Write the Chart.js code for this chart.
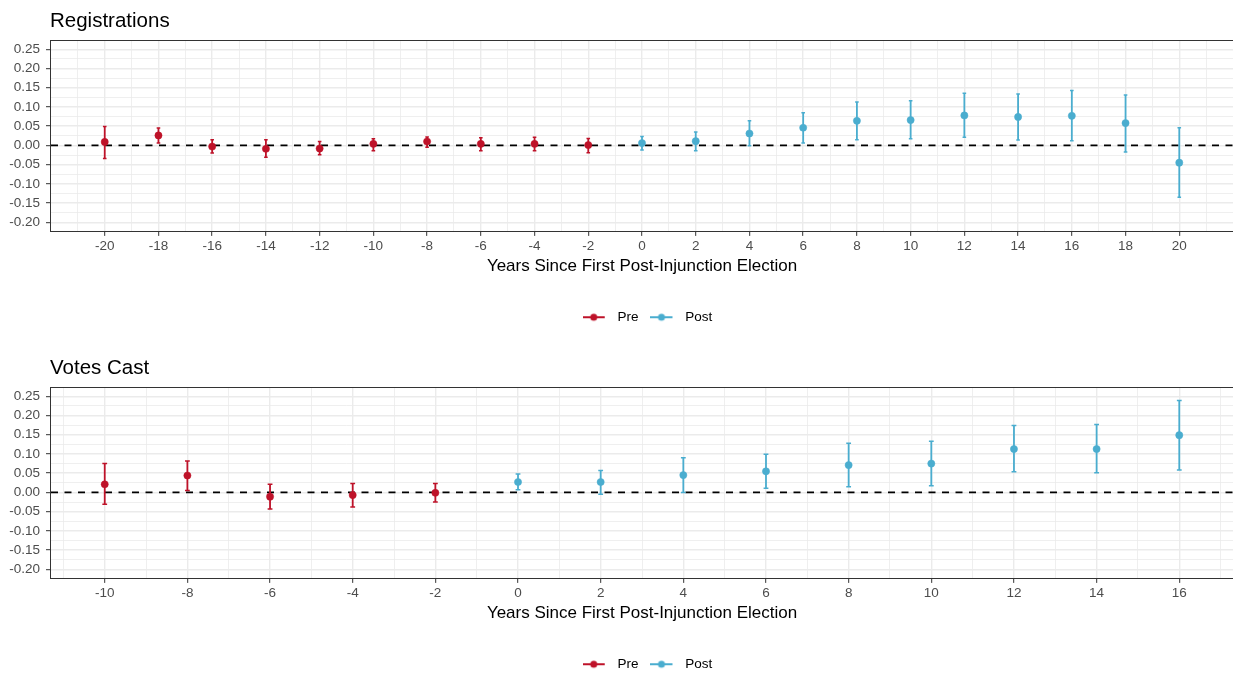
<!DOCTYPE html>
<html>
<head>
<meta charset="utf-8">
<script src="https://cdn.jsdelivr.net/npm/chart.js@4.4.1/dist/chart.umd.min.js"></script>
<style>
  html, body { margin: 0; padding: 0; background: #ffffff; overflow: hidden; width: 1233px; height: 675px; }
  .panel { position: absolute; left: 0; width: 1233px; height: 338px; }
</style>
</head>
<body>
<div class="panel" style="top:0px"><canvas id="c1" width="1233" height="338"></canvas></div>
<div class="panel" style="top:347px"><canvas id="c2" width="1233" height="338"></canvas></div>
<script>
// ---------------- DATA ----------------
const seriesNames = ['Pre', 'Post'];
const xAxisTitle = 'Years Since First Post-Injunction Election';

// Panel 1: Registrations
const regTitle = 'Registrations';
const regYears = [-20, -18, -16, -14, -12, -10, -8, -6, -4, -2, 0, 2, 4, 6, 8, 10, 12, 14, 16, 18, 20];
const regEst   = [0.009, 0.026, -0.003, -0.009, -0.008, 0.004, 0.010, 0.004, 0.004, 0.001, 0.006, 0.011, 0.031, 0.046, 0.064, 0.066, 0.078, 0.074, 0.077, 0.058, -0.045];
const regLo    = [-0.034, 0.006, -0.020, -0.031, -0.024, -0.014, -0.005, -0.014, -0.014, -0.019, -0.012, -0.014, -0.001, 0.006, 0.015, 0.017, 0.021, 0.014, 0.012, -0.017, -0.135];
const regHi    = [0.049, 0.045, 0.015, 0.015, 0.010, 0.017, 0.022, 0.020, 0.021, 0.018, 0.023, 0.035, 0.064, 0.085, 0.113, 0.116, 0.136, 0.134, 0.143, 0.131, 0.046];
const regXTicks = [-20, -18, -16, -14, -12, -10, -8, -6, -4, -2, 0, 2, 4, 6, 8, 10, 12, 14, 16, 18, 20];
const regXLimits = [-22, 22];

// Panel 2: Votes Cast
const voteTitle = 'Votes Cast';
const voteYears = [-10, -8, -6, -4, -2, 0, 2, 4, 6, 8, 10, 12, 14, 16];
const voteEst   = [0.021, 0.044, -0.011, -0.007, -0.001, 0.027, 0.027, 0.045, 0.055, 0.071, 0.075, 0.113, 0.113, 0.149];
const voteLo    = [-0.031, 0.005, -0.043, -0.038, -0.025, 0.007, -0.005, 0.000, 0.011, 0.015, 0.017, 0.054, 0.051, 0.058];
const voteHi    = [0.075, 0.082, 0.021, 0.023, 0.023, 0.048, 0.057, 0.090, 0.099, 0.128, 0.133, 0.174, 0.177, 0.239];
const voteXTicks = [-10, -8, -6, -4, -2, 0, 2, 4, 6, 8, 10, 12, 14, 16];
const voteXLimits = [-11.3, 17.3];

// Shared y axis
const yTickLabels = [-0.20, -0.15, -0.10, -0.05, 0.00, 0.05, 0.10, 0.15, 0.20, 0.25];
const yLimits = [-0.2225, 0.2725];

// ---------------- STYLE ----------------
const FONT = '"Liberation Sans", Arial, Helvetica, sans-serif';
const RED = '#BE1229';
const BLUE = '#4AADCF';
const GRID = '#EBEBEB';
const AXIS_TXT = '#4D4D4D';
Chart.defaults.font.family = FONT;

function legendIcon(color) {
  const c = document.createElement('canvas');
  c.width = 28; c.height = 10;
  const g = c.getContext('2d');
  g.strokeStyle = color; g.lineWidth = 2;
  g.beginPath(); g.moveTo(0, 5); g.lineTo(22, 5); g.stroke();
  g.fillStyle = color;
  g.beginPath(); g.arc(11, 5, 3.5, 0, Math.PI * 2); g.fill();
  return c;
}

const isIn = (arr, v) => arr.some(m => Math.abs(m - v) < 1e-9);

const framePlugin = {
  id: 'frame',
  afterDraw(chart) {
    const {ctx, chartArea: a} = chart;
    const l = Math.round(a.left), t = Math.round(a.top), r = Math.round(a.right), b = Math.round(a.bottom);
    ctx.save();
    ctx.strokeStyle = '#333333'; ctx.lineWidth = 1;
    ctx.strokeRect(l - 0.5, t - 0.5, r - l + 1, b - t + 1);
    ctx.restore();
  }
};

const panelTitlePlugin = {
  id: 'panelTitle',
  afterDraw(chart, args, opts) {
    const {ctx, chartArea: a} = chart;
    ctx.save();
    ctx.font = '20.5px ' + FONT;
    ctx.fillStyle = '#000000';
    ctx.textAlign = 'left';
    ctx.textBaseline = 'alphabetic';
    ctx.fillText(opts.text, a.left - 1, a.top - 14);
    ctx.restore();
  }
};

const legendShiftPlugin = {
  id: 'legendShift',
  afterLayout(chart, args, opts) {
    if (chart.legend) {
      chart.legend.left += opts.shift;
      chart.legend.right += opts.shift;
    }
  }
};

function buildPanel(canvasId, title, years, est, lo, hi, xTicks, xLimits, capHalf) {
  const preIdx = years.map((y, i) => i).filter(i => years[i] < 0);
  const postIdx = years.map((y, i) => i).filter(i => years[i] >= 0);
  const pts = idx => idx.map(i => ({x: years[i], y: est[i]}));
  const whisk = idx => {
    const out = [];
    idx.forEach(i => { out.push({x: years[i], y: lo[i]}); out.push({x: years[i], y: hi[i]}); out.push({x: years[i], y: null}); });
    return out;
  };
  const caps = idx => {
    const out = [];
    idx.forEach(i => { out.push({x: years[i], y: lo[i]}); out.push({x: years[i], y: hi[i]}); });
    return out;
  };
  const xMinor = xTicks.map(v => v - 1).concat([xTicks[xTicks.length - 1] + 1]);
  const xAll = xMinor.concat(xTicks).sort((a, b) => a - b);
  const yMinor = yTickLabels.slice(0, -1).map(v => v + 0.025);
  const yAll = yTickLabels.concat(yMinor).sort((a, b) => a - b);

  const pointDs = (label, idx, color) => ({
    label, type: 'scatter', data: pts(idx), order: 0,
    pointRadius: 3.6, pointBackgroundColor: color, pointBorderColor: color, pointBorderWidth: 0.5
  });
  const whiskDs = (label, idx, color) => ({
    label, type: 'line', data: whisk(idx), order: 2, spanGaps: false,
    borderColor: color, borderWidth: 1.8, pointRadius: 0, fill: false, tension: 0
  });
  const capDs = (label, idx, color) => ({
    label, type: 'scatter', data: caps(idx), order: 1,
    pointStyle: 'line', pointRadius: capHalf, pointBorderColor: color, pointBorderWidth: 1.5,
    pointBackgroundColor: color
  });

  const legendItems = [
    {text: seriesNames[0], pointStyle: legendIcon(RED), fillStyle: RED, strokeStyle: RED, lineWidth: 0, hidden: false, datasetIndex: 0, fontColor: '#000000'},
    {text: seriesNames[1], pointStyle: legendIcon(BLUE), fillStyle: BLUE, strokeStyle: BLUE, lineWidth: 0, hidden: false, datasetIndex: 1, fontColor: '#000000'}
  ];

  return new Chart(document.getElementById(canvasId), {
    type: 'scatter',
    data: {
      datasets: [
        pointDs(seriesNames[0], preIdx, RED),
        pointDs(seriesNames[1], postIdx, BLUE),
        capDs('preCaps', preIdx, RED),
        capDs('postCaps', postIdx, BLUE),
        whiskDs('preWhiskers', preIdx, RED),
        whiskDs('postWhiskers', postIdx, BLUE),
        {label: 'zero', type: 'line', order: 3, data: [{x: xLimits[0], y: 0}, {x: xLimits[1], y: 0}],
         borderColor: '#000000', borderWidth: 1.8, borderDash: [7, 6.5], pointRadius: 0, fill: false}
      ]
    },
    options: {
      responsive: false,
      animation: false,
      events: [],
      layout: {autoPadding: false, padding: {top: 40.7, left: 0, right: 0, bottom: 4}},
      plugins: {
        tooltip: {enabled: false},
        title: {display: false},
        panelTitle: {text: title},
        legendShift: {shift: 31},
        legend: {
          display: true, position: 'bottom', align: 'center',
          labels: {
            usePointStyle: true, pointStyleWidth: 28, padding: 12,
            color: '#000000', font: {size: 13.5, family: FONT},
            generateLabels: () => legendItems
          }
        }
      },
      scales: {
        x: {
          type: 'linear', position: 'bottom', min: xLimits[0], max: xLimits[1], offset: false,
          afterBuildTicks: s => { s.ticks = xAll.map(v => ({value: v})); },
          ticks: {
            autoSkip: false, maxRotation: 0, minRotation: 0, padding: 2,
            color: AXIS_TXT, font: {size: 13.5, family: FONT},
            callback: v => isIn(xTicks, v) ? String(v) : ''
          },
          grid: {
            offset: false, drawTicks: true, tickLength: 5,
            color: GRID,
            lineWidth: c => (c.tick && isIn(xTicks, c.tick.value)) ? 1.4 : 0.8,
            tickColor: c => (c.tick && isIn(xTicks, c.tick.value)) ? '#333333' : 'rgba(0,0,0,0)',
            tickWidth: 1
          },
          border: {display: false},
          title: {
            display: true, text: xAxisTitle, color: '#000000',
            font: {size: 17, family: FONT}, padding: {top: 0, bottom: 22}
          }
        },
        y: {
          type: 'linear', min: yLimits[0], max: yLimits[1], beginAtZero: false,
          afterBuildTicks: s => { s.ticks = yAll.map(v => ({value: v})); },
          afterFit: s => { s.width = 51; },
          ticks: {
            autoSkip: false, padding: 6, color: AXIS_TXT, font: {size: 13.5, family: FONT},
            callback: v => isIn(yTickLabels, v) ? v.toFixed(2) : ''
          },
          grid: {
            drawTicks: true, tickLength: 5,
            color: GRID,
            lineWidth: c => (c.tick && isIn(yTickLabels, c.tick.value)) ? 1.4 : 0.8,
            tickColor: c => (c.tick && isIn(yTickLabels, c.tick.value)) ? '#333333' : 'rgba(0,0,0,0)',
            tickWidth: 1
          },
          border: {display: false}
        }
      }
    },
    plugins: [framePlugin, panelTitlePlugin, legendShiftPlugin]
  });
}

buildPanel('c1', regTitle, regYears, regEst, regLo, regHi, regXTicks, regXLimits, 1.8);
buildPanel('c2', voteTitle, voteYears, voteEst, voteLo, voteHi, voteXTicks, voteXLimits, 2.4);
</script>
</body>
</html>
